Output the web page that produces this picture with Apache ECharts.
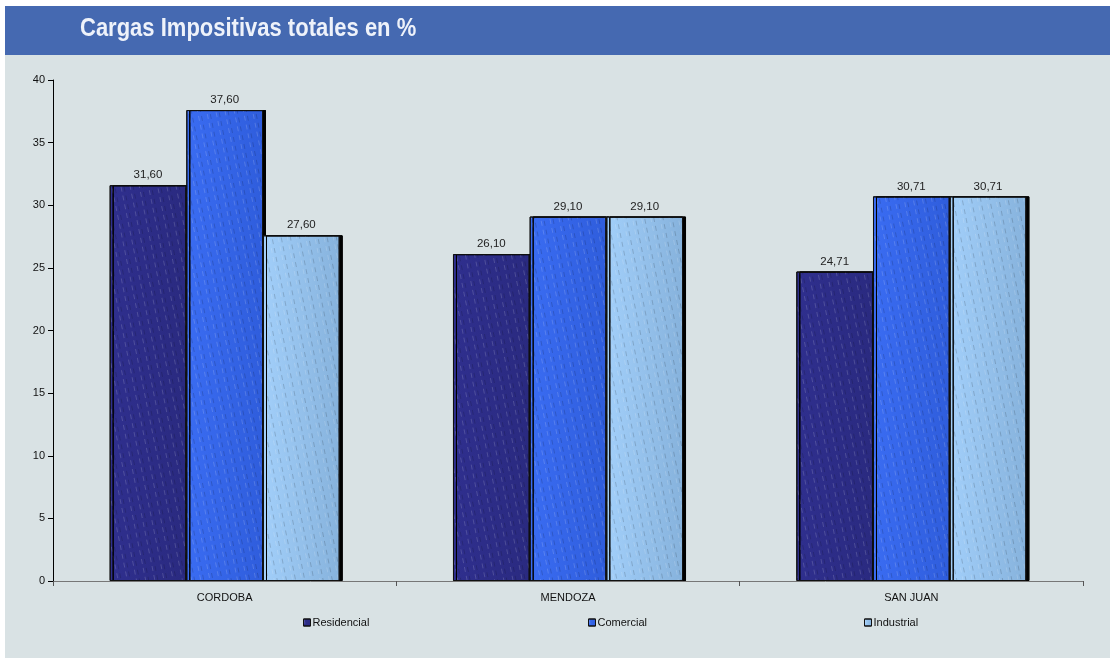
<!DOCTYPE html>
<html>
<head>
<meta charset="utf-8">
<script src="https://cdn.jsdelivr.net/npm/echarts@6/dist/echarts.min.js"></script>
<style>
html,body{margin:0;padding:0;background:#ffffff;}
#chart{width:1110px;height:659px;}
</style>
</head>
<body>
<div id="chart"></div>
<script>
var categories = ['CORDOBA', 'MENDOZA', 'SAN JUAN'];
var residencial = [31.60, 26.10, 24.71];
var comercial = [37.60, 29.10, 30.71];
var industrial = [27.60, 29.10, 30.71];
var seriesNames = ['Residencial', 'Comercial', 'Industrial'];
var yTicks = [0, 5, 10, 15, 20, 25, 30, 35, 40];
var titleText = 'Cargas Impositivas totales en %';

var chart = echarts.init(document.getElementById('chart'), null, {renderer: 'canvas'});

function fmt(v) { return v.toFixed(2).replace('.', ','); }

function grad(c1, c2) {
  return new echarts.graphic.LinearGradient(0, 0, 1, 0, [
    {offset: 0, color: c1}, {offset: 1, color: c2}
  ]);
}

var decal = {
  symbol: 'rect',
  symbolSize: 1,
  dashArrayX: [1, 8],
  dashArrayY: [5, 4],
  rotation: -0.2,
  color: 'rgba(255,255,255,0.16)'
};

function mkSeries(name, data, c1, c2) {
  return {
    name: name,
    type: 'bar',
    data: data,
    barGap: '0%',
    barCategoryGap: '33%',
    itemStyle: {
      color: grad(c1, c2),
      borderColor: '#111',
      borderWidth: 1,
      shadowColor: '#000',
      shadowBlur: 0,
      shadowOffsetX: 3,
      shadowOffsetY: 0,
      decal: decal
    },
    label: {
      show: true,
      position: 'top',
      distance: 4,
      color: '#222',
      fontFamily: 'Liberation Sans, Arial, sans-serif',
      fontSize: 11.5,
      formatter: function (p) { return fmt(p.value); }
    }
  };
}

var legendBase = {
  bottom: 26,
  icon: 'rect',
  itemWidth: 7,
  itemHeight: 7,
  itemGap: 0,
  textStyle: {fontFamily: 'Liberation Sans, Arial, sans-serif', fontSize: 11, color: '#111', padding: [0, 0, 0, -3]},
  itemStyle: {borderColor: '#111', borderWidth: 1}
};

var option = {
  animation: false,
  backgroundColor: '#ffffff',
  graphic: [
    {type: 'rect', left: 5, top: 55, shape: {width: 1105, height: 603}, style: {fill: '#d9e2e4'}, z: -10},
    {type: 'rect', left: 5, top: 6, shape: {width: 1105, height: 49}, style: {fill: '#4569b1'}, z: -10},
    {type: 'text', x: 80, y: 17, scaleX: 0.88, originX: 0, z: 10,
     style: {text: titleText, fill: '#eef2fa', font: 'bold 25px "Liberation Sans", Arial, sans-serif'}}
  ],
  legend: [
    Object.assign({}, legendBase, {data: [seriesNames[0]], left: 298}),
    Object.assign({}, legendBase, {data: [seriesNames[1]], left: 583}),
    Object.assign({}, legendBase, {data: [seriesNames[2]], left: 859})
  ],
  grid: {left: 53, right: 27, top: 80, bottom: 78, containLabel: false},
  xAxis: {
    type: 'category',
    data: categories,
    axisLine: {lineStyle: {color: '#777', width: 1}},
    axisTick: {show: true, alignWithLabel: false, length: 5, lineStyle: {color: '#555'}},
    axisLabel: {color: '#111', fontFamily: 'Liberation Sans, Arial, sans-serif', fontSize: 11, margin: 11}
  },
  yAxis: {
    type: 'value',
    min: yTicks[0],
    max: yTicks[yTicks.length - 1],
    interval: 5,
    splitLine: {show: false},
    axisLine: {show: true, lineStyle: {color: '#000', width: 1}},
    axisTick: {show: true, length: 5, lineStyle: {color: '#000'}},
    axisLabel: {color: '#111', fontFamily: 'Liberation Sans, Arial, sans-serif', fontSize: 11, margin: 8}
  },
  series: [
    mkSeries(seriesNames[0], residencial, '#2f2f8e', '#2a2a80'),
    mkSeries(seriesNames[1], comercial, '#3a6cf2', '#2f5ddc'),
    mkSeries(seriesNames[2], industrial, '#a2cffa', '#86b2dc')
  ]
};

chart.setOption(option);
</script>
</body>
</html>
